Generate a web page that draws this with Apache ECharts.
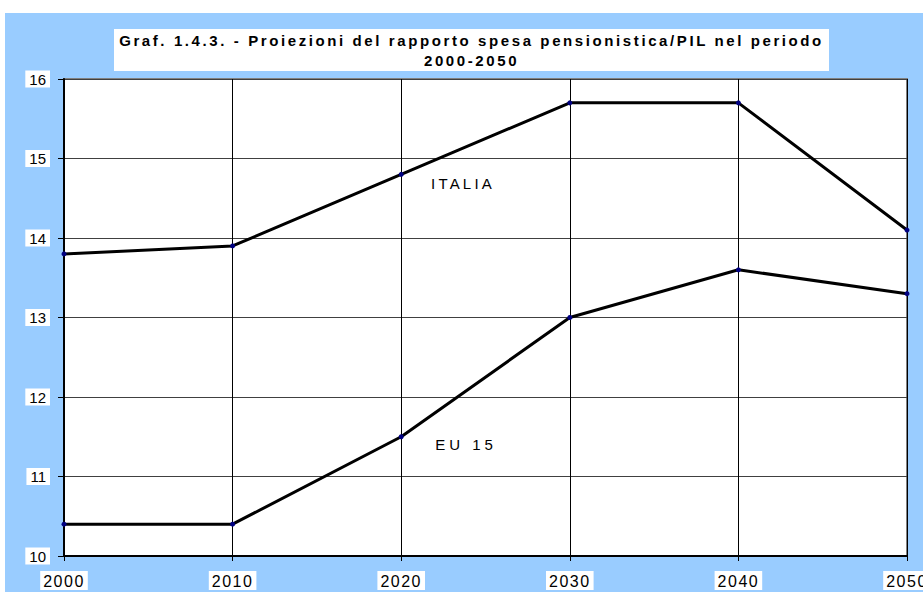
<!DOCTYPE html>
<html>
<head>
<meta charset="utf-8">
<script src="https://cdn.jsdelivr.net/npm/echarts@6/dist/echarts.min.js"></script>
<style>
  html, body { margin: 0; padding: 0; background: #fff; }
  #chart { width: 923px; height: 592px; }
</style>
</head>
<body>
<div id="chart"></div>
<script>
// dati
const anni = ["2000", "2010", "2020", "2030", "2040", "2050"];
const italia = [13.8, 13.9, 14.8, 15.7, 15.7, 14.1];
const eu15 = [10.4, 10.4, 11.5, 13.0, 13.6, 13.3];
const titolo = "Graf. 1.4.3. - Proiezioni del rapporto spesa pensionistica/PIL nel periodo\n2000-2050";

const FONT = "'Liberation Sans', Arial, sans-serif";

const chart = echarts.init(document.getElementById("chart"), null, { renderer: "svg" });

const lineSeries = (name, data) => ({
  name: name,
  type: "line",
  data: data,
  symbol: "circle",
  symbolSize: 5,
  lineStyle: { color: "#000", width: 3 },
  itemStyle: { color: "#000080" },
  emphasis: { disabled: true },
  z: 5
});

const etichetta = (text, x, y) => ({
  type: "text",
  x: x,
  y: y,
  z: 10,
  style: {
    text: text,
    font: "15px " + FONT,
    fill: "#000",
    align: "center",
    verticalAlign: "middle"
  }
});

const option = {
  animation: false,
  backgroundColor: "#fff",
  graphic: [
    {
      type: "rect",
      shape: { x: 5, y: 13, width: 918, height: 579 },
      style: { fill: "#99CCFF" },
      z: -10,
      silent: true
    },
    {
      type: "rect",
      shape: { x: 114, y: 29, width: 715, height: 42 },
      style: { fill: "#fff" },
      z: 8,
      silent: true
    },
    {
      type: "text",
      x: 471.5,
      y: 50,
      z: 10,
      style: {
        text: titolo,
        font: "bold 15px " + FONT,
        fill: "#000",
        align: "center",
        verticalAlign: "middle",
        lineHeight: 20
      }
    },
    etichetta("ITALIA", 463, 183),
    etichetta("EU 15", 466, 444)
  ],
  grid: {
    left: 64,
    right: 16,
    top: 79,
    bottom: 36,
    outerBoundsMode: "none",
    containLabel: false,
    show: true,
    backgroundColor: "#fff",
    borderColor: "#808080",
    borderWidth: 2
  },
  xAxis: {
    type: "category",
    data: anni,
    boundaryGap: false,
    axisLine: { lineStyle: { color: "#000", width: 2 } },
    axisTick: { show: true, length: 5, lineStyle: { color: "#000" } },
    axisLabel: {
      color: "#000",
      fontFamily: FONT,
      fontSize: 16,
      margin: 15,
      backgroundColor: "#fff",
      padding: [2, 6, 1, 6]
    },
    splitLine: { show: true, lineStyle: { color: "#000", width: 1 } }
  },
  yAxis: {
    type: "value",
    min: 10,
    max: 16,
    interval: 1,
    axisLine: { show: true, lineStyle: { color: "#000", width: 2 } },
    axisTick: { show: true, length: 6, lineStyle: { color: "#000" } },
    axisLabel: {
      color: "#000",
      fontFamily: FONT,
      fontSize: 15,
      margin: 14,
      backgroundColor: "#fff",
      padding: [1, 4, 1, 4]
    },
    splitLine: { show: true, lineStyle: { color: "#404040", width: 1 } }
  },
  series: [lineSeries("ITALIA", italia), lineSeries("EU 15", eu15)]
};

chart.setOption(option);

// spaziatura lettere come nell'originale (solo svg)
const spaziatura = (s) => {
  if (s.indexOf("Graf.") === 0 || s === "2000-2050") return "2.6px";
  if (s === "ITALIA") return "3.2px";
  if (s === "EU 15") return "4px";
  if (/^\d{4}$/.test(s)) return "1.5px";
  return null;
};
const applicaSpaziatura = () => {
  document.querySelectorAll("#chart svg text").forEach(t => {
    const ls = spaziatura(t.textContent.trim());
    if (ls) t.style.letterSpacing = ls;
  });
};
applicaSpaziatura();
chart.on("finished", applicaSpaziatura);
</script>
</body>
</html>
